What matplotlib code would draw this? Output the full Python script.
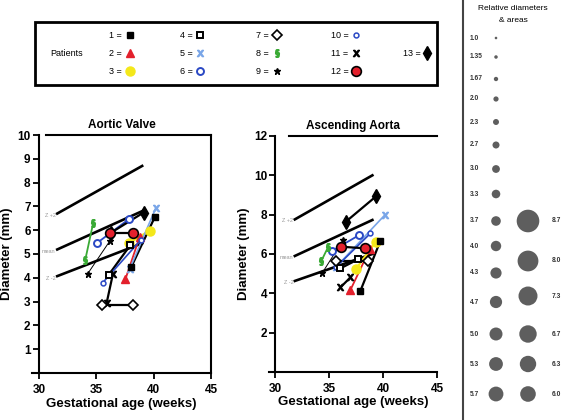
import matplotlib
matplotlib.use('Agg')
import matplotlib.pyplot as plt
from matplotlib.patches import Rectangle

plt.rcParams['font.family'] = ['Liberation Sans', 'DejaVu Sans']

# ---------------- data ----------------
patients = ['1', '2', '3', '4', '5', '6', '7', '8', '9', '10', '11', '12', '13']

# Aortic valve: (gestational age, diameter) pairs per patient
av_x = [[38.04, 40.09], [37.54, 38.77], [37.83, 39.65], [36.08, 37.95], [37.90, 40.18],
        [35.03, 37.83], [35.50, 38.18], [34.04, 34.74], [34.24, 36.20], [35.56, 38.90],
        [35.90, 36.45], [36.20, 38.20], [36.30, 39.12]]
av_y = [[4.44, 6.54], [3.94, 5.70], [5.45, 5.98], [4.12, 5.36], [4.36, 6.92],
        [5.45, 6.46], [2.86, 2.86], [4.75, 6.32], [4.16, 5.56], [3.79, 5.60],
        [2.93, 4.16], [5.90, 5.90], [5.90, 6.74]]

# Ascending aorta
aa_x = [[37.89, 39.75], [36.96, 38.76], [37.46, 39.31], [36.03, 37.67], [35.60, 40.15],
        [35.29, 37.77], [35.60, 38.60], [34.27, 34.88], [34.36, 36.28], [35.60, 38.82],
        [36.03, 36.96], [36.13, 38.29], [36.53, 39.38]]
aa_y = [[4.13, 6.68], [4.17, 6.24], [5.22, 6.62], [5.27, 5.73], [5.32, 7.98],
        [6.17, 6.96], [5.66, 5.66], [5.66, 6.34], [5.05, 6.71], [5.32, 7.05],
        [4.30, 4.81], [6.37, 6.29], [7.64, 8.95]]

# reference curves (Z+2, mean, Z-2)
ref_labels = ['Z +2', 'mean', 'Z -2']
av_ref_x = [31.6, 39.0]
av_ref_y = [[6.70, 8.70], [5.19, 6.80], [4.07, 5.45]]
aa_ref_x = [31.8, 39.0]
aa_ref_y = [[7.76, 10.0], [5.90, 7.73], [4.63, 6.00]]

# relative diameter scale
rel_left = [1.0, 1.35, 1.67, 2.0, 2.3, 2.7, 3.0, 3.3, 3.7, 4.0, 4.3, 4.7, 5.0, 5.3, 5.7]
rel_left_lbl = ['1.0', '1.35', '1.67', '2.0', '2.3', '2.7', '3.0', '3.3', '3.7', '4.0',
                '4.3', '4.7', '5.0', '5.3', '5.7']
rel_right = [8.7, 8.0, 7.3, 6.7, 6.3, 6.0]
rel_right_lbl = ['8.7', '8.0', '7.3', '6.7', '6.3', '6.0']

# ---------------- styles ----------------
RED = '#e3202c'
YEL = '#f4e81a'
LBLUE = '#7aa6e8'
BLUE = '#2a48c4'
GREEN = '#3aaa35'
line_col = ['black', RED, YEL, 'black', LBLUE, BLUE, 'black', GREEN, 'black', BLUE,
            'black', 'black', 'black']
line_w = [1.6, 1.3, 1.6, 1.6, 1.2, 1.3, 1.6, 1.3, 0.7, 1.2, 1.6, 1.6, 1.6]
mk = [
    dict(marker='s', mfc='black', mec='black', ms=4.2),
    dict(marker='^', mfc=RED, mec=RED, ms=6),
    dict(marker='o', mfc=YEL, mec=YEL, ms=6.5),
    dict(marker='s', mfc='white', mec='black', mew=1.4, ms=5),
    dict(marker='$\\mathsf{x}$', mfc=LBLUE, mec=LBLUE, ms=4.5),
    dict(marker='o', mfc='white', mec=BLUE, mew=1.4, ms=5),
    dict(marker='D', mfc='white', mec='black', mew=1.2, ms=5.5),
    dict(marker='$\\S$', mfc=GREEN, mec=GREEN, ms=5.5),
    dict(marker='*', mfc='black', mec='black', ms=5),
    dict(marker='o', mfc='white', mec=BLUE, mew=1.1, ms=3.5),
    dict(marker='$\\mathsf{x}$', mfc='black', mec='black', ms=4.5),
    dict(marker='o', mfc=RED, mec='black', mew=1.2, ms=7),
    dict(marker='d', mfc='black', mec='black', ms=7),
]
zorders = [6, 5, 4, 6, 5, 5, 6, 5, 5, 5, 5, 8, 7]

W, H = 567, 420
fig = plt.figure(figsize=(W / 100, H / 100), dpi=100)


def panel(rect, title, xs, ys, rx, ry, ymax, yticks, top_start):
    ax = fig.add_axes(rect)
    ax.set_xlim(29.4, 45)
    ax.set_ylim(0, ymax)
    ax.spines['left'].set_position(('data', 30))
    for s in ax.spines.values():
        s.set_linewidth(1.5)
    ax.spines['top'].set_bounds(top_start, 45)
    ax.set_xticks([30, 35, 40, 45])
    ax.set_yticks(yticks)
    ax.tick_params(direction='out', length=4, width=1.3, labelsize=8.5, pad=2)
    ax.tick_params(axis='x', pad=4)
    for lab in ax.get_xticklabels() + ax.get_yticklabels():
        lab.set_fontweight('bold')
    ax.set_title(title, fontsize=8.5, fontweight='bold', pad=5)
    ax.set_xlabel('Gestational age (weeks)', fontsize=9.5, fontweight='bold', labelpad=1)
    ax.set_ylabel('Diameter (mm)', fontsize=9.5, fontweight='bold', labelpad=3)
    for lbl, yy in zip(ref_labels, ry):
        ax.plot(rx, yy, color='black', lw=1.9, zorder=2)
        ax.text(rx[0] - 0.15, yy[0] - 0.08, lbl, fontsize=4, color='#999999',
                ha='right', va='center')
    for i in range(len(patients)):
        ax.plot(xs[i], ys[i], color=line_col[i], lw=line_w[i], zorder=3)
    for i in range(len(patients)):
        ax.plot(xs[i], ys[i], ls='none', zorder=zorders[i], **mk[i])
    return ax


ax1 = panel([32 / W, 47 / H, 179 / W, 238 / H], 'Aortic Valve', av_x, av_y,
            av_ref_x, av_ref_y, 10, list(range(1, 11)), 30.6)
ax2 = panel([269 / W, 48 / H, 168 / W, 236 / H], 'Ascending Aorta', aa_x, aa_y,
            aa_ref_x, aa_ref_y, 12, [2, 4, 6, 8, 10, 12], 31.3)
ax2.spines['right'].set_visible(False)

# ---------------- overlay (legend + size scale) ----------------
ov = fig.add_axes([0, 0, 1, 1])
ov.set_xlim(0, W)
ov.set_ylim(H, 0)
ov.axis('off')

ov.add_patch(Rectangle((35, 22), 402, 63, fill=False, lw=2, ec='black'))
ov.text(50, 54, 'Patients', fontsize=6.5, va='center', ha='left')
col_txt = [109, 180, 256, 331, 403]
col_mk = [130, 200, 277, 356, 427]
row_y = [35, 53, 71]
for i, p in enumerate(patients):
    if i < 12:
        c, r = i // 3, i % 3
    else:
        c, r = 4, 1
    ov.text(col_txt[c], row_y[r], p + ' =', fontsize=6.5, va='center', ha='left')
    ov.plot([col_mk[c]], [row_y[r]], ls='none', **mk[i])

# relative diameters panel
ov.plot([463, 463], [0, H], color='#444444', lw=1.5)
ov.text(513, 9, 'Relative diameters', fontsize=6, ha='center', va='center')
ov.text(513, 21, '& areas', fontsize=6, ha='center', va='center')
left_rows = [38, 57, 79, 99, 122, 145, 169, 194, 221, 246, 273, 302, 334, 364, 394]
right_rows = [221, 261, 296, 334, 364, 394]
GRAY = '#5e5e5e'
ov.scatter([496] * len(rel_left), left_rows,
           s=[(2.6 * v * 0.72) ** 2 for v in rel_left], color=GRAY, lw=0)
for lbl, yy in zip(rel_left_lbl, left_rows):
    ov.text(470, yy, lbl, fontsize=4.8, fontweight='bold', ha='left', va='center',
            color='#333333')
ov.scatter([528] * len(rel_right), right_rows,
           s=[(2.6 * v * 0.72) ** 2 for v in rel_right], color=GRAY, lw=0)
for lbl, yy in zip(rel_right_lbl, right_rows):
    ov.text(552, yy, lbl, fontsize=4.8, fontweight='bold', ha='left', va='center',
            color='#333333')

fig.savefig('out.png', dpi=100)
